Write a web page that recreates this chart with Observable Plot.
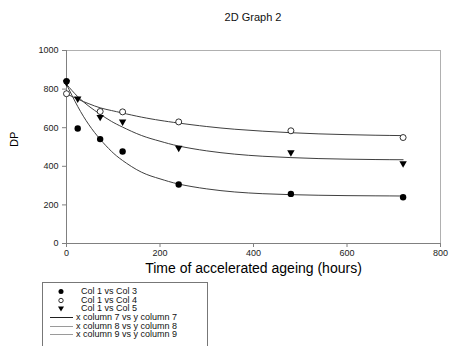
<!DOCTYPE html>
<html><head><meta charset="utf-8">
<script src="https://cdn.jsdelivr.net/npm/d3@7"></script>
<script src="https://cdn.jsdelivr.net/npm/@observablehq/plot@0.6"></script>
<style>
html,body{margin:0;padding:0;background:#fff;}
body{width:449px;height:346px;overflow:hidden;position:relative;font-family:Arial,"Liberation Sans",sans-serif;color:#111;}
#title{height:30px;box-sizing:border-box;padding:11px 9px 0 66px;text-align:center;font-size:11px;line-height:12px;}
#chart svg{display:block;}
#legend{position:absolute;left:42px;top:282px;width:166px;height:80px;border:1px solid #777;box-sizing:border-box;padding-top:4px;}
.row{position:relative;height:8.7px;font-size:9px;line-height:8.7px;white-space:nowrap;}
.row svg{position:absolute;left:0;top:0;}
.row span{position:absolute;top:0;}
</style>
</head><body>
<div id="title"></div>
<div id="chart"></div>
<div id="legend"></div>
<script>
const titleText = "2D Graph 2";
const xLabel = "Time of accelerated ageing (hours)";
const yLabel = "DP";
const xTicks = [0, 200, 400, 600, 800];
const yTicks = [0, 200, 400, 600, 800, 1000];

// measured points
const hours3 = [0, 24, 72, 120, 240, 480, 720];
const col3 = [841, 596, 541, 477, 306, 257, 240];
const hours4 = [0, 72, 120, 240, 480, 720];
const col4 = [776, 684, 682, 630, 584, 549];
const hours5 = [0, 24, 72, 120, 240, 480, 720];
const col5 = [830, 746, 651, 627, 491, 468, 411];

// fitted curves
const fitHours = [0, 24, 48, 72, 96, 120, 160, 200, 240, 300, 360, 420, 480, 540, 600, 660, 720];
const fit7 = [825, 710, 615, 540, 478, 430, 370, 335, 308, 283, 267, 258, 253, 250, 248, 247, 246];
const fit8 = [776, 748, 724, 703, 689, 676, 655, 638, 624, 606, 592, 582, 574, 568, 564, 561, 559];
const fit9 = [825, 761, 711, 670, 633, 603, 560, 530, 505, 480, 463, 452, 445, 440, 437, 435, 434];

const legendLabels = ["Col 1 vs Col 3", "Col 1 vs Col 4", "Col 1 vs Col 5",
  "x column 7 vs y column 7", "x column 8 vs y column 8", "x column 9 vs y column 9"];

document.getElementById("title").textContent = titleText;

const triDown = {
  draw(ctx, size) {
    const a = Math.sqrt(size) * 0.58;
    ctx.moveTo(-a, -a * 0.8);
    ctx.lineTo(a, -a * 0.8);
    ctx.lineTo(0, a * 0.95);
    ctx.closePath();
  }
};

const pts = (xs, ys) => xs.map((x, i) => ({x, y: ys[i]}));
const d3pts = pts(hours3, col3), d4pts = pts(hours4, col4), d5pts = pts(hours5, col5);
const f7 = pts(fitHours, fit7), f8 = pts(fitHours, fit8), f9 = pts(fitHours, fit9);

const chart = Plot.plot({
  width: 449, height: 250,
  marginTop: 20, marginBottom: 37, marginLeft: 66, marginRight: 9,
  style: {fontFamily: "Arial, 'Liberation Sans', sans-serif", fontSize: "9px", color: "#222", background: "#fff"},
  x: {domain: [0, 800]},
  y: {domain: [0, 1000]},
  marks: [
    Plot.frame({stroke: "#b0b0b0", strokeWidth: 1}),
    Plot.ruleX([0], {stroke: "#808080"}),
    Plot.ruleY([0], {stroke: "#808080"}),
    Plot.axisX({ticks: xTicks, tickFormat: d => String(d), tickSize: 4, tickPadding: 2, stroke: "#808080", label: null, fontSize: 9}),
    Plot.axisY({ticks: yTicks, tickFormat: d => String(d), tickSize: 4, tickPadding: 4, stroke: "#808080", label: null, fontSize: 9}),
    Plot.line(f7, {x: "x", y: "y", stroke: "#404040", strokeWidth: 1, curve: "natural"}),
    Plot.line(f8, {x: "x", y: "y", stroke: "#404040", strokeWidth: 1, curve: "natural"}),
    Plot.line(f9, {x: "x", y: "y", stroke: "#404040", strokeWidth: 1, curve: "natural"}),
    Plot.dot(d5pts, {x: "x", y: "y", symbol: triDown, r: 3.6, fill: "#000", stroke: "none"}),
    Plot.dot(d3pts, {x: "x", y: "y", r: 3.2, fill: "#000", stroke: "none"}),
    Plot.dot(d4pts, {x: "x", y: "y", r: 3, fill: "#fff", stroke: "#000", strokeWidth: 0.8}),
    Plot.text([xLabel], {frameAnchor: "bottom", dy: 29, fontSize: 14, fill: "#000", textAnchor: "middle"}),
    Plot.text([yLabel], {frameAnchor: "left", dx: -52, rotate: -90, fontSize: 11, fill: "#000"})
  ]
});
document.getElementById("chart").appendChild(chart);

// legend
const legend = d3.select("#legend");
const kinds = ["filled", "open", "tri", "line", "line2", "line2"];
legendLabels.forEach((lab, i) => {
  const row = legend.append("div").attr("class", "row");
  const svg = row.append("svg").attr("width", 40).attr("height", 9);
  const k = kinds[i];
  if (k === "filled") svg.append("circle").attr("cx", 18).attr("cy", 4.5).attr("r", 2.5).attr("fill", "#000");
  else if (k === "open") svg.append("circle").attr("cx", 18).attr("cy", 4.5).attr("r", 2.2).attr("fill", "#fff").attr("stroke", "#000").attr("stroke-width", 0.8);
  else if (k === "tri") svg.append("path").attr("d", "M15,2.5L21,2.5L18,7.5Z").attr("fill", "#000");
  else svg.append("line").attr("x1", 7).attr("x2", 30).attr("y1", 4.5).attr("y2", 4.5)
      .attr("stroke", k === "line" ? "#202020" : "#9a9a9a").attr("stroke-width", 1);
  row.append("span").style("left", (i < 3 ? 38 : 33) + "px").text(lab);
});
</script>
</body></html>
